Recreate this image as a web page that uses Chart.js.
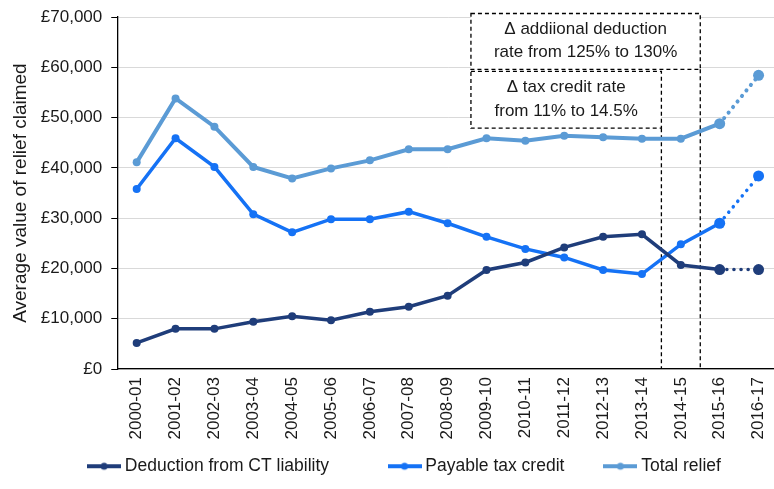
<!DOCTYPE html>
<html>
<head>
<meta charset="utf-8">
<script src="https://cdn.jsdelivr.net/npm/chart.js@4.4.1/dist/chart.umd.min.js"></script>
<style>
  body { margin: 0; background: #fff; overflow: hidden; }
</style>
</head>
<body>
<canvas id="grafico" width="778" height="489"></canvas>
<script>
const anios = ["2000-01", "2001-02", "2002-03", "2003-04", "2004-05", "2005-06", "2006-07", "2007-08",
  "2008-09", "2009-10", "2010-11", "2011-12", "2012-13", "2013-14", "2014-15", "2015-16", "2016-17"];
const deduccion = [5200, 8000, 8000, 9400, 10500, 9700, 11400, 12400, 14600, 19700, 21200, 24200, 26300, 26800, 20700, 19800, 19800];
const credito = [35800, 45900, 40200, 30800, 27200, 29800, 29800, 31300, 29000, 26300, 23900, 22200, 19700, 18900, 24800, 29000, 38400];
const total = [41100, 53800, 48200, 40200, 37900, 39900, 41500, 43700, 43700, 45900, 45400, 46400, 46100, 45800, 45800, 48800, 58400];
const nombres = ["Deduction from CT liability", "Payable tax credit", "Total relief"];
const textoCaja1 = ["Δ addiional deduction", "rate from 125% to 130%"];
const textoCaja2 = ["Δ tax credit rate", "from 11% to 14.5%"];

const colores = ["#1f3d7a", "#1572f5", "#5b9bd5"];
const fuente = "'Liberation Sans', Arial, sans-serif";

// el ultimo tramo (estimado) va punteado
const tramo = {
  borderDash: ctx => ctx.p1DataIndex === anios.length - 1 ? [0.1, 7] : undefined,
  borderCapStyle: ctx => ctx.p1DataIndex === anios.length - 1 ? "round" : "butt"
};
const radios = anios.map((a, i) => i >= anios.length - 2 ? 5.5 : 4);

function marcador(color) {
  const c = document.createElement("canvas");
  c.width = 34;
  c.height = 10;
  const g = c.getContext("2d");
  g.strokeStyle = color;
  g.lineWidth = 4;
  g.beginPath();
  g.moveTo(0, 5);
  g.lineTo(34, 5);
  g.stroke();
  g.fillStyle = color;
  g.beginPath();
  g.arc(17, 5, 3.5, 0, Math.PI * 2);
  g.fill();
  return c;
}

// recuadros punteados con las notas
const cajas = [
  { x0: 8.6, x1: 14.5, y0: 70700, y1: 59600, texto: textoCaja1 },
  { x0: 8.6, x1: 13.5, y0: 59200, y1: 47900, texto: textoCaja2 }
];

const notas = {
  id: "notas",
  afterLayout(chart) {
    // la leyenda del original esta algo corrida a la derecha
    chart.legend.left += 13;
    chart.legend.right += 13;
  },
  beforeDatasetsDraw(chart) {
    const ctx = chart.ctx;
    const x = chart.scales.x;
    const y = chart.scales.y;
    const base = y.getPixelForValue(0);
    ctx.save();
    ctx.strokeStyle = "#000";
    ctx.lineWidth = 1.3;
    ctx.setLineDash([4, 3]);
    cajas.forEach(c => {
      const l = x.getPixelForValue(c.x0);
      const r = x.getPixelForValue(c.x1);
      const t = y.getPixelForValue(c.y0);
      const b = y.getPixelForValue(c.y1);
      ctx.fillStyle = "#fff";
      ctx.fillRect(l, t, r - l, b - t);
      ctx.strokeRect(l, t, r - l, b - t);
      ctx.beginPath();
      ctx.moveTo(r, b);
      ctx.lineTo(r, base);
      ctx.stroke();
      ctx.fillStyle = "#1a1a1a";
      ctx.font = "17px " + fuente;
      ctx.textAlign = "center";
      ctx.textBaseline = "middle";
      const h = (b - t) / 2;
      ctx.fillText(c.texto[0], (l + r) / 2, t + h * 0.55);
      ctx.fillText(c.texto[1], (l + r) / 2, t + h * 1.4);
    });
    ctx.restore();
  }
};

const series = [deduccion, credito, total].map((datos, i) => ({
  label: nombres[i],
  data: datos,
  borderColor: colores[i],
  backgroundColor: colores[i],
  borderWidth: i === 2 ? 4 : 3.5,
  pointRadius: radios,
  pointHoverRadius: radios,
  pointBorderWidth: 0,
  tension: 0,
  segment: tramo
}));

// espacios extra para separar los elementos de la leyenda
const huecos = ["           ", "       ", ""];

new Chart(document.getElementById("grafico"), {
  type: "line",
  data: { labels: anios, datasets: series },
  options: {
    responsive: false,
    animation: false,
    layout: { autoPadding: false, padding: { top: 17, left: 9, right: 0, bottom: 4 } },
    plugins: {
      legend: {
        position: "bottom",
        labels: {
          usePointStyle: true,
          pointStyleWidth: 24,
          padding: 10,
          color: "#1a1a1a",
          font: { family: fuente, size: 17.5 },
          generateLabels: chart => {
            const items = Chart.defaults.plugins.legend.labels.generateLabels(chart);
            items.forEach((it, i) => {
              it.pointStyle = marcador(colores[i]);
              it.text = it.text + huecos[i];
            });
            return items;
          }
        }
      },
      tooltip: { enabled: false }
    },
    scales: {
      x: {
        offset: true,
        grid: { display: false, drawTicks: false },
        border: { color: "#000", width: 1.3 },
        afterFit: eje => { eje.paddingLeft = 0; eje.paddingRight = 0; },
        ticks: {
          minRotation: 90,
          maxRotation: 90,
          padding: 8,
          color: "#1a1a1a",
          font: { family: fuente, size: 17 }
        }
      },
      y: {
        min: 0,
        max: 70000,
        grid: { color: "#d9d9d9", tickColor: "#000", tickLength: 6 },
        border: { color: "#000", width: 1.3 },
        afterFit: eje => { eje.paddingTop = 0; },
        title: {
          display: true,
          text: "Average value of relief claimed",
          color: "#1a1a1a",
          font: { family: fuente, size: 19 },
          padding: { top: 0, bottom: 0 }
        },
        ticks: {
          stepSize: 10000,
          padding: 9,
          color: "#1a1a1a",
          font: { family: fuente, size: 17 },
          callback: v => "£" + v.toLocaleString("en-GB")
        }
      }
    }
  },
  plugins: [notas]
});
</script>
</body>
</html>
